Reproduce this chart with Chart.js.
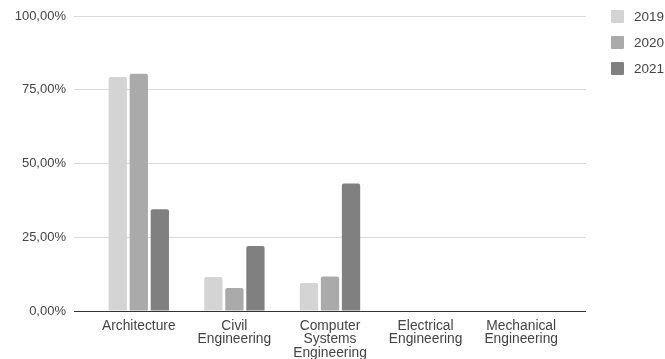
<!DOCTYPE html>
<html>
<head>
<meta charset="utf-8">
<script src="https://cdn.jsdelivr.net/npm/chart.js@4/dist/chart.umd.min.js"></script>
<style>
  html, body { margin: 0; padding: 0; background: #fff; }
  #wrap { position: relative; width: 665px; height: 359px; }
  #legend { position: absolute; left: 611px; top: 10px; font: 13.5px "Liberation Sans", Arial, sans-serif; color: #444; }
  #legend .item { display: flex; align-items: center; height: 13px; margin-bottom: 13px; }
  #legend .box { width: 13px; height: 13px; border-radius: 1px; margin-right: 10px; }
</style>
</head>
<body>
<div id="wrap">
  <canvas id="chart" width="665" height="359"></canvas>
  <div id="legend"></div>
</div>
<script>
// Share of students by programme and year (percent)
const categories = [
  'Architecture',
  ['Civil', 'Engineering'],
  ['Computer', 'Systems', 'Engineering'],
  ['Electrical', 'Engineering'],
  ['Mechanical', 'Engineering']
];
const seriesNames = ['2019', '2020', '2021'];
const values2019 = [79.3, 11.5, 9.5, 0, 0];
const values2020 = [80.4, 7.8, 11.7, 0, 0];
const values2021 = [34.5, 22.0, 43.2, 0, 0];
const yTicks = [0, 25, 50, 75, 100];
const seriesColors = ['#d4d4d4', '#aaaaaa', '#808080'];

const FAMILY = '"Liberation Sans", Arial, sans-serif';
const gridColor = ctx => (ctx.tick && ctx.tick.value === 0) ? '#333333' : '#d9d9d9';
const fmtPct = v => v.toFixed(2).replace('.', ',') + '%';

const datasets = [values2019, values2020, values2021].map((vals, i) => ({
  label: seriesNames[i],
  data: vals,
  backgroundColor: seriesColors[i],
  borderWidth: 0,
  borderRadius: { topLeft: 2, topRight: 2 },
  borderSkipped: 'bottom',
  categoryPercentage: 0.66,
  barPercentage: 0.87
}));

const chart = new Chart(document.getElementById('chart'), {
  type: 'bar',
  data: { labels: categories, datasets },
  options: {
    responsive: false,
    animation: false,
    devicePixelRatio: 1,
    layout: { padding: { left: 0, right: 79, top: 16, bottom: 0 } },
    plugins: { legend: { display: false }, tooltip: { enabled: false } },
    scales: {
      x: {
        grid: { display: false },
        border: { display: false },
        ticks: {
          color: '#444',
          font: { family: FAMILY, size: 13.8, lineHeight: '13.5px' },
          padding: 0,
          maxRotation: 0,
          autoSkip: false
        },
        afterFit: s => { s.height = 48; }
      },
      y: {
        min: 0, max: 100,
        afterBuildTicks: s => { s.ticks = yTicks.map(v => ({ value: v })); },
        grid: { color: gridColor, lineWidth: 1, drawTicks: true, tickLength: 17, tickColor: gridColor },
        border: { display: false },
        ticks: { color: '#444', font: { family: FAMILY, size: 13 }, padding: 8, callback: v => fmtPct(v) },
        afterFit: s => { s.width = 91; }
      },
      yRight: {
        position: 'right',
        min: 0, max: 100,
        afterBuildTicks: s => { s.ticks = yTicks.map(v => ({ value: v })); },
        grid: { color: gridColor, drawOnChartArea: false, drawTicks: true, tickLength: 17, tickColor: gridColor },
        border: { display: false },
        ticks: { display: false },
        afterFit: s => { s.width = 17; }
      }
    }
  }
});

// Legend built from the chart's own datasets
const legendEl = document.getElementById('legend');
chart.data.datasets.forEach(ds => {
  const item = document.createElement('div');
  item.className = 'item';
  const box = document.createElement('span');
  box.className = 'box';
  box.style.background = ds.backgroundColor;
  const txt = document.createElement('span');
  txt.textContent = ds.label;
  item.appendChild(box);
  item.appendChild(txt);
  legendEl.appendChild(item);
});
</script>
</body>
</html>
